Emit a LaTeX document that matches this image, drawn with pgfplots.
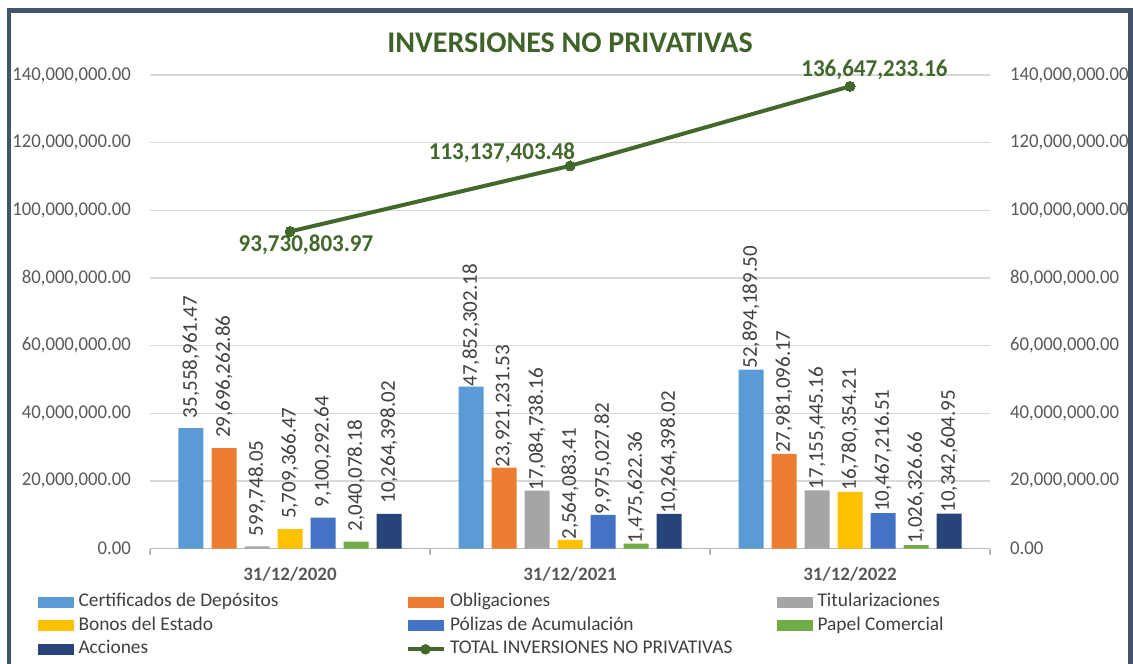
\documentclass[border=0pt]{standalone}
\usepackage{pgfplots}
\pgfplotsset{compat=1.18}
\usepackage{pgfplotstable}
\usepackage{fontspec}
\setmainfont{Carlito}
\newfontfamily\condfont[FakeStretch=0.96]{Carlito}
\newfontfamily\condboldfont[FakeStretch=0.95]{Carlito Bold}
\definecolor{cCD}{HTML}{5B9BD5}
\definecolor{cOB}{HTML}{ED7D31}
\definecolor{cTI}{HTML}{A5A5A5}
\definecolor{cBO}{HTML}{FFC000}
\definecolor{cPO}{HTML}{4472C4}
\definecolor{cPA}{HTML}{70AD47}
\definecolor{cAC}{HTML}{264478}
\definecolor{cTot}{HTML}{43682B}
\definecolor{cTitle}{HTML}{3F6328}
\definecolor{cTick}{HTML}{595959}
\definecolor{cLab}{HTML}{404040}
\definecolor{cGrid}{HTML}{D9D9D9}
\definecolor{cFrame}{HTML}{44546A}

\pgfplotstableread{
x CD CDl OB OBl TI TIl BO BOl PO POl PA PAl AC ACl gap
0 35558961.47 35,558,961.47 29696262.86 29,696,262.86 599748.05 599,748.05 5709366.47 5,709,366.47 9100292.64 9,100,292.64 2040078.18 2,040,078.18 10264398.02 10,264,398.02 10
1 47852302.18 47,852,302.18 23921231.53 23,921,231.53 17084738.16 17,084,738.16 2564083.41 2,564,083.41 9975027.82 9,975,027.82 1475622.36 1,475,622.36 10264398.02 10,264,398.02 0
2 52894189.50 52,894,189.50 27981096.17 27,981,096.17 17155445.16 17,155,445.16 16780354.21 16,780,354.21 10467216.51 10,467,216.51 1026326.66 1,026,326.66 10342604.95 10,342,604.95 1
}\bars

\pgfplotstableread{
x y l dx dy
0 93730803.97 93,730,803.97 16 -13
1 113137403.48 113,137,403.48 -68 13
2 136647233.16 136,647,233.16 24.5 16
}\total

\begin{document}
\begin{tikzpicture}
\useasboundingbox (0,0) rectangle (1133bp,-664bp);
\fill[white] (0,0) rectangle (1133bp,-664bp);
\begin{axis}[
  at={(150bp,-548.5bp)}, anchor=south west,
  scale only axis, width=840bp, height=473.5bp,
  xmin=-0.5, xmax=2.5, ymin=0, ymax=140000000,
  ybar=8bp, bar width=25bp,
  axis x line*=bottom, axis y line*=left,
  axis line style={-},
  x axis line style={draw=cGrid!85!black, line width=1.3bp},
  y axis line style={draw=none},
  ymajorgrids, grid style={cGrid, line width=1.3bp},
  ytick={0,20000000,40000000,60000000,80000000,100000000,120000000,140000000},
  scaled y ticks=false,
  major tick length=0pt,
  yticklabel style={font={\condfont\fontsize{19.5bp}{21bp}\selectfont}, color=cTick, inner sep=0pt, xshift=-19bp,
    /pgf/number format/.cd, fixed, fixed zerofill, precision=2, 1000 sep={,}, assume math mode=true},
  xtick={0,1,2}, xticklabels={31/12/2020,31/12/2021,31/12/2022},
  xticklabel style={font={\bfseries\fontsize{19bp}{21bp}\selectfont}, color=cTick, anchor=base, inner sep=0pt, yshift=-32bp},
  extra x ticks={-0.5,0.5,1.5,2.5}, extra x tick labels={},
  extra x tick style={grid=none, tick align=outside, major tick length=6bp, tick style={draw=cGrid!85!black, line width=1.3bp}},
  title={INVERSIONES NO PRIVATIVAS},
  title style={at={(0.5,1)}, anchor=base, yshift=17bp, inner sep=0pt, font={\bfseries\fontsize{30bp}{32bp}\selectfont}, color=cTitle},
  nodes near coords={\pgfplotspointmeta},
  point meta=explicit symbolic,
  visualization depends on={\thisrow{gap}\as\gap},
  every node near coord/.append style={rotate=90, anchor=west, inner ysep=0pt, inner xsep=\gap bp, font={\fontsize{21bp}{23bp}\selectfont}, color=cLab},
  legend image code/.code={\path[#1, draw=none] (0bp,-5.5bp) rectangle (36bp,5.5bp);},
  legend columns=3,
  legend style={at={(-0.13333,-0.0895)}, anchor=north west, draw=none, fill=none, inner sep=0pt, outer sep=0pt, row sep=0pt,
    font={\fontsize{19.4bp}{21bp}\selectfont}, text=cLab,
    nodes={inner sep=0pt, text height=15.9bp, text depth=7.5bp},
    /tikz/every odd column/.append style={column sep=4.5bp},
    cells={anchor=west}},
]
\addplot[fill=cCD, draw=none] table[x=x, y=CD, meta=CDl] {\bars};
\addlegendentry{\makebox[327bp][l]{Certificados de Depósitos}}
\addplot[fill=cOB, draw=none] table[x=x, y=OB, meta=OBl] {\bars};
\addlegendentry{\makebox[327bp][l]{Obligaciones}}
\addplot[fill=cTI, draw=none] table[x=x, y=TI, meta=TIl] {\bars};
\addlegendentry{\makebox[327bp][l]{Titularizaciones}}
\addplot[fill=cBO, draw=none] table[x=x, y=BO, meta=BOl] {\bars};
\addlegendentry{\makebox[327bp][l]{Bonos del Estado}}
\addplot[fill=cPO, draw=none] table[x=x, y=PO, meta=POl] {\bars};
\addlegendentry{\makebox[327bp][l]{Pólizas de Acumulación}}
\addplot[fill=cPA, draw=none] table[x=x, y=PA, meta=PAl] {\bars};
\addlegendentry{\makebox[327bp][l]{Papel Comercial}}
\addplot[fill=cAC, draw=none] table[x=x, y=AC, meta=ACl] {\bars};
\addlegendentry{\makebox[327bp][l]{Acciones}}
\addlegendimage{legend image code/.code={\draw[cTot, line width=4bp] (0bp,0bp) -- (36bp,0bp); \fill[cTot] (18bp,0bp) circle (5bp);}}
\addlegendentry{\makebox[327bp][l]{TOTAL INVERSIONES NO PRIVATIVAS}}
\end{axis}

\begin{axis}[
  at={(150bp,-548.5bp)}, anchor=south west,
  scale only axis, width=840bp, height=473.5bp,
  xmin=-0.5, xmax=2.5, ymin=0, ymax=140000000,
  axis x line=none, axis y line*=right,
  axis line style={-},
  y axis line style={draw=none},
  ytick={0,20000000,40000000,60000000,80000000,100000000,120000000,140000000},
  scaled y ticks=false,
  major tick length=0pt,
  yticklabel style={font={\condfont\fontsize{19.5bp}{21bp}\selectfont}, color=cTick, inner sep=0pt, xshift=20bp,
    /pgf/number format/.cd, fixed, fixed zerofill, precision=2, 1000 sep={,}, assume math mode=true},
  clip=false,
]
\addplot[cTot, line width=4bp, mark=*, mark size=5bp, mark options={fill=cTot, draw=cTot, line width=0pt},
  nodes near coords={\pgfplotspointmeta}, point meta=explicit symbolic,
  visualization depends on={\thisrow{dx}\as\dx},
  visualization depends on={\thisrow{dy}\as\dy},
  every node near coord/.append style={anchor=center, inner sep=0pt, xshift=\dx bp, yshift=\dy bp, font={\condboldfont\fontsize{24.2bp}{26bp}\selectfont}, color=cTot}]
  table[x=x, y=y, meta=l] {\total};
\end{axis}

\draw[cFrame, line width=4.5bp] (9.2bp,-10.5bp) rectangle (1130.5bp,-720bp);
\end{tikzpicture}
\end{document}
